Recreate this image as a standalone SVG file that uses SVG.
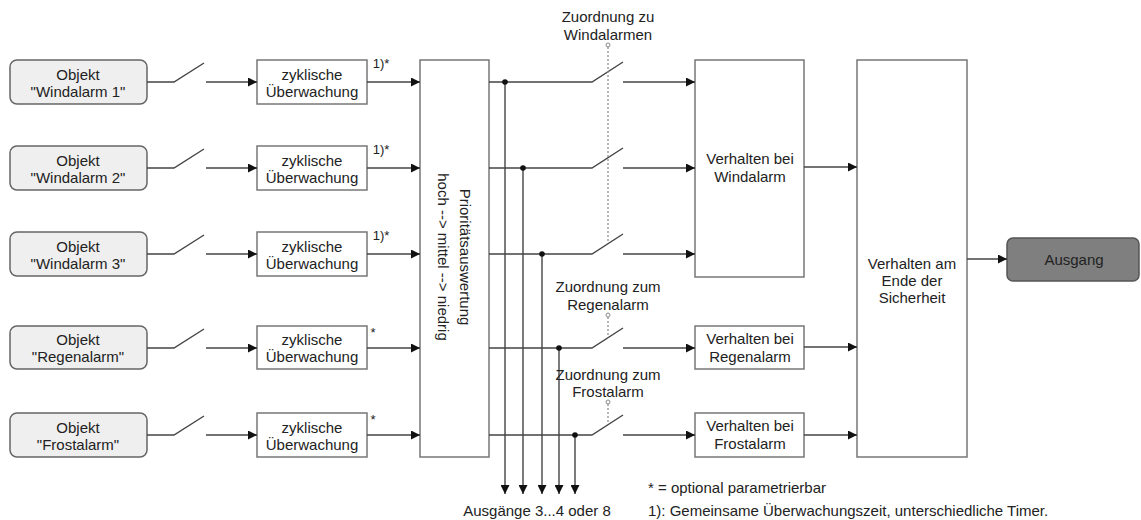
<svg xmlns="http://www.w3.org/2000/svg" width="1141" height="520" viewBox="0 0 1141 520">
<style>
text{font-family:"Liberation Sans",Arial,sans-serif;font-size:15px;fill:#222;text-anchor:middle}
.obj{fill:#efefef;stroke:#666;stroke-width:1.5}
.box{fill:#fff;stroke:#777;stroke-width:1.5}
.out{fill:#7f7f7f;stroke:#555;stroke-width:1.5}
.ln{fill:none;stroke:#444;stroke-width:1.4}
.dot{fill:none;stroke:#888;stroke-width:1.2;stroke-dasharray:2 2}
.note{text-anchor:start}
.sm{font-size:13px}
</style>
<defs>
<marker id="ah" viewBox="0 0 10 10" refX="10" refY="5" markerWidth="9" markerHeight="9" markerUnits="userSpaceOnUse" orient="auto">
<path d="M0,0 L10,5 L0,10 z" fill="#111"/>
</marker>
</defs>
<rect width="1141" height="520" fill="#fff"/>

<g id="obj1"><rect class="obj" x="10" y="60" width="137" height="44" rx="7"/><text x="78" y="80">Objekt</text><text x="78" y="97">"Windalarm 1"</text></g>
<g id="obj2"><rect class="obj" x="10" y="146" width="137" height="44" rx="7"/><text x="78" y="166">Objekt</text><text x="78" y="183">"Windalarm 2"</text></g>
<g id="obj3"><rect class="obj" x="10" y="232" width="137" height="44" rx="7"/><text x="78" y="252">Objekt</text><text x="78" y="269">"Windalarm 3"</text></g>
<g id="obj4"><rect class="obj" x="10" y="326" width="137" height="43" rx="7"/><text x="78" y="345">Objekt</text><text x="78" y="362">"Regenalarm"</text></g>
<g id="obj5"><rect class="obj" x="10" y="413" width="137" height="44" rx="7"/><text x="78" y="433">Objekt</text><text x="78" y="450">"Frostalarm"</text></g>

<g id="zyk1"><rect class="box" x="257" y="60" width="110" height="44"/><text x="312" y="80">zyklische</text><text x="312" y="97">Überwachung</text><text class="sm" x="381" y="68">1)*</text></g>
<g id="zyk2"><rect class="box" x="257" y="146" width="110" height="44"/><text x="312" y="166">zyklische</text><text x="312" y="183">Überwachung</text><text class="sm" x="381" y="154">1)*</text></g>
<g id="zyk3"><rect class="box" x="257" y="232" width="110" height="44"/><text x="312" y="252">zyklische</text><text x="312" y="269">Überwachung</text><text class="sm" x="381" y="240">1)*</text></g>
<g id="zyk4"><rect class="box" x="257" y="326" width="110" height="43"/><text x="312" y="345">zyklische</text><text x="312" y="362">Überwachung</text><text class="sm" x="373" y="337">*</text></g>
<g id="zyk5"><rect class="box" x="257" y="413" width="110" height="44"/><text x="312" y="433">zyklische</text><text x="312" y="450">Überwachung</text><text class="sm" x="373" y="424">*</text></g>

<g id="prio"><rect class="box" x="420" y="60" width="69" height="397"/>
<text transform="translate(460,257) rotate(90)">Prioritätsauswertung</text>
<text transform="translate(438,257) rotate(90)">hoch --&gt; mittel --&gt; niedrig</text></g>

<g id="wind"><rect class="box" x="695" y="60" width="109" height="217"/><text x="750" y="164">Verhalten bei</text><text x="750" y="182">Windalarm</text></g>
<g id="regen"><rect class="box" x="695" y="326" width="109" height="43"/><text x="750" y="344">Verhalten bei</text><text x="750" y="362">Regenalarm</text></g>
<g id="frost"><rect class="box" x="695" y="413" width="109" height="44"/><text x="750" y="431">Verhalten bei</text><text x="750" y="449">Frostalarm</text></g>

<g id="ende"><rect class="box" x="857" y="60" width="110" height="397"/><text x="912" y="269">Verhalten am</text><text x="912" y="286">Ende der</text><text x="912" y="303">Sicherheit</text></g>

<g id="ausgang"><rect class="out" x="1007" y="238" width="132" height="43" rx="6"/><text x="1074" y="265">Ausgang</text></g>

<g id="connectors">
<path class="ln" d="M147,82 H174 L204,63 M147,168 H174 L204,149 M147,254 H174 L204,235 M147,348 H174 L204,329 M147,435 H174 L204,416"/>
<path class="ln" d="M206,82 H257" marker-end="url(#ah)"/>
<path class="ln" d="M206,168 H257" marker-end="url(#ah)"/>
<path class="ln" d="M206,254 H257" marker-end="url(#ah)"/>
<path class="ln" d="M206,348 H257" marker-end="url(#ah)"/>
<path class="ln" d="M206,435 H257" marker-end="url(#ah)"/>
<path class="ln" d="M367,82 H420" marker-end="url(#ah)"/>
<path class="ln" d="M367,168 H420" marker-end="url(#ah)"/>
<path class="ln" d="M367,254 H420" marker-end="url(#ah)"/>
<path class="ln" d="M367,348 H420" marker-end="url(#ah)"/>
<path class="ln" d="M367,435 H420" marker-end="url(#ah)"/>
<path class="ln" d="M489,82 H592 L623,62 M489,168 H592 L623,148 M489,254 H592 L623,234 M489,348 H592 L623,328 M489,435 H592 L623,415"/>
<path class="ln" d="M623,82 H695" marker-end="url(#ah)"/>
<path class="ln" d="M623,168 H695" marker-end="url(#ah)"/>
<path class="ln" d="M623,254 H695" marker-end="url(#ah)"/>
<path class="ln" d="M623,348 H695" marker-end="url(#ah)"/>
<path class="ln" d="M623,435 H695" marker-end="url(#ah)"/>
<path class="ln" d="M505,82 V494" marker-end="url(#ah)"/>
<path class="ln" d="M523,168 V494" marker-end="url(#ah)"/>
<path class="ln" d="M542,254 V494" marker-end="url(#ah)"/>
<path class="ln" d="M559,348 V494" marker-end="url(#ah)"/>
<path class="ln" d="M575,435 V494" marker-end="url(#ah)"/>
<g fill="#111"><circle cx="505" cy="82" r="2.8"/><circle cx="523" cy="168" r="2.8"/><circle cx="542" cy="254" r="2.8"/><circle cx="559" cy="348" r="2.8"/><circle cx="575" cy="435" r="2.8"/></g>
<path class="dot" d="M608,47 V243 M608,317 V337 M608,404 V424"/>
<g fill="#fff" stroke="#888" stroke-width="1"><circle cx="608" cy="45" r="2"/><circle cx="608" cy="315" r="2"/><circle cx="608" cy="402" r="2"/></g>
<path class="ln" d="M804,167 H857" marker-end="url(#ah)"/>
<path class="ln" d="M804,347 H857" marker-end="url(#ah)"/>
<path class="ln" d="M804,435 H857" marker-end="url(#ah)"/>
<path class="ln" d="M967,259 H1007" marker-end="url(#ah)"/>
</g>

<g id="labels">
<text x="608" y="22">Zuordnung zu</text><text x="608" y="40">Windalarmen</text>
<text x="608" y="292">Zuordnung zum</text><text x="608" y="310">Regenalarm</text>
<text x="608" y="380">Zuordnung zum</text><text x="608" y="397">Frostalarm</text>
<text x="537" y="516">Ausgänge 3...4 oder 8</text>
<text class="note" x="648" y="493">* = optional parametrierbar</text>
<text class="note" x="648" y="516">1): Gemeinsame Überwachungszeit, unterschiedliche Timer.</text>
</g>
</svg>
